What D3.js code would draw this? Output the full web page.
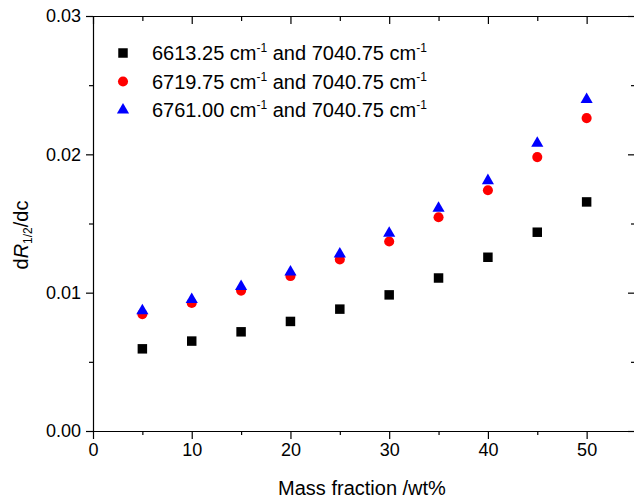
<!DOCTYPE html>
<html>
<head>
<meta charset="utf-8">
<script src="https://cdn.jsdelivr.net/npm/d3@7"></script>
<style>
  body { margin: 0; background: #fff; }
  svg { font-family: Arial, "Liberation Sans", sans-serif; }
  .axis path, .axis line { stroke: #000; stroke-width: 1.2; }
  .axis text { font-size: 18px; fill: #000; }
</style>
</head>
<body>
<svg id="chart" width="634" height="502"></svg>
<script>
const massFraction = [5, 10, 15, 20, 25, 30, 35, 40, 45, 50];
const black6613 = [0.00594, 0.0065, 0.00717, 0.00792, 0.00881, 0.00984, 0.01106, 0.01256, 0.01437, 0.01656];
const red6719 = [0.00845, 0.00925, 0.01015, 0.0112, 0.0124, 0.0137, 0.01545, 0.0174, 0.0198, 0.02262];
const blue6761 = [0.0087, 0.0095, 0.01045, 0.0115, 0.0128, 0.0143, 0.0161, 0.0181, 0.0208, 0.02397];
const seriesNames = ['6613.25', '6719.75', '6761.00'];
const xTicks = [0, 10, 20, 30, 40, 50];
const xMinor = [5, 15, 25, 35, 45];
const yTicks = [0, 0.01, 0.02, 0.03];
const yMinor = [0.005, 0.015, 0.025];

const svg = d3.select('#chart');
const plotLeft = 93, plotRight = 636, plotTop = 16, plotBottom = 431;

const x = d3.scaleLinear().domain([0, 55]).range([plotLeft, plotRight]);
const y = d3.scaleLinear().domain([0, 0.03]).range([plotBottom, plotTop]);

// left axis, ticks outward
svg.append('g').attr('class', 'axis').attr('transform', `translate(${plotLeft},0)`)
  .call(d3.axisLeft(y).tickValues(yTicks).tickSize(7).tickPadding(5).tickSizeOuter(0).tickFormat(d3.format('.2f')));
svg.append('g').attr('class', 'axis').attr('transform', `translate(${plotLeft},0)`)
  .call(d3.axisLeft(y).tickValues(yMinor).tickSize(4).tickSizeOuter(0).tickFormat(''))
  .select('.domain').remove();

// right axis, ticks inward
svg.append('g').attr('class', 'axis').attr('transform', `translate(${plotRight},0)`)
  .call(d3.axisRight(y).tickValues(yTicks).tickSize(-8).tickSizeOuter(0).tickFormat(''));
svg.append('g').attr('class', 'axis').attr('transform', `translate(${plotRight},0)`)
  .call(d3.axisRight(y).tickValues(yMinor).tickSize(-5).tickSizeOuter(0).tickFormat(''))
  .select('.domain').remove();

// bottom axis, ticks outward
svg.append('g').attr('class', 'axis').attr('transform', `translate(0,${plotBottom})`)
  .call(d3.axisBottom(x).tickValues(xTicks).tickSize(8).tickPadding(4).tickSizeOuter(0));
svg.append('g').attr('class', 'axis').attr('transform', `translate(0,${plotBottom})`)
  .call(d3.axisBottom(x).tickValues(xMinor).tickSize(4).tickSizeOuter(0).tickFormat(''))
  .select('.domain').remove();

// top axis, ticks inward
svg.append('g').attr('class', 'axis').attr('transform', `translate(0,${plotTop})`)
  .call(d3.axisTop(x).tickValues(xTicks).tickSize(-8).tickSizeOuter(0).tickFormat(''));
svg.append('g').attr('class', 'axis').attr('transform', `translate(0,${plotTop})`)
  .call(d3.axisTop(x).tickValues(xMinor).tickSize(-5).tickSizeOuter(0).tickFormat(''))
  .select('.domain').remove();

// axis titles
svg.append('text')
  .attr('x', 362).attr('y', 495)
  .attr('text-anchor', 'middle')
  .style('font-size', '20px')
  .text('Mass fraction /wt%');

const yTitle = svg.append('text')
  .attr('transform', 'translate(28,235) rotate(-90)')
  .attr('text-anchor', 'middle')
  .style('font-size', '20px');
yTitle.append('tspan').text('d');
yTitle.append('tspan').style('font-style', 'italic').text('R');
yTitle.append('tspan').attr('dy', 4).style('font-size', '12px').text('1/2');
yTitle.append('tspan').attr('dy', -4).text('/dc');

const series = [
  { name: seriesNames[0], values: black6613, color: '#000', shape: d3.symbolSquare, size: 90 },
  { name: seriesNames[1], values: red6719, color: '#ff0000', shape: d3.symbolCircle, size: 80 },
  { name: seriesNames[2], values: blue6761, color: '#0000ff', shape: d3.symbolTriangle, size: 64 }
];

series.forEach(s => {
  svg.append('g').selectAll('path')
    .data(s.values)
    .join('path')
    .attr('d', d3.symbol(s.shape, s.size))
    .attr('fill', s.color)
    .attr('transform', (d, i) => `translate(${x(massFraction[i])},${y(d)})`);
});

// legend
const legend = svg.append('g');
series.forEach((s, i) => {
  const ly = 53 + i * 28.5;
  legend.append('path')
    .attr('d', d3.symbol(s.shape, s.size))
    .attr('fill', s.color)
    .attr('transform', `translate(123,${ly})`);
  const t = legend.append('text')
    .attr('x', 152).attr('y', ly + 7)
    .style('font-size', '20px');
  t.append('tspan').text(`${s.name} cm`);
  t.append('tspan').attr('dy', -8).style('font-size', '12px').text('-1');
  t.append('tspan').attr('dy', 8).text(' and 7040.75 cm');
  t.append('tspan').attr('dy', -8).style('font-size', '12px').text('-1');
});
</script>
</body>
</html>
